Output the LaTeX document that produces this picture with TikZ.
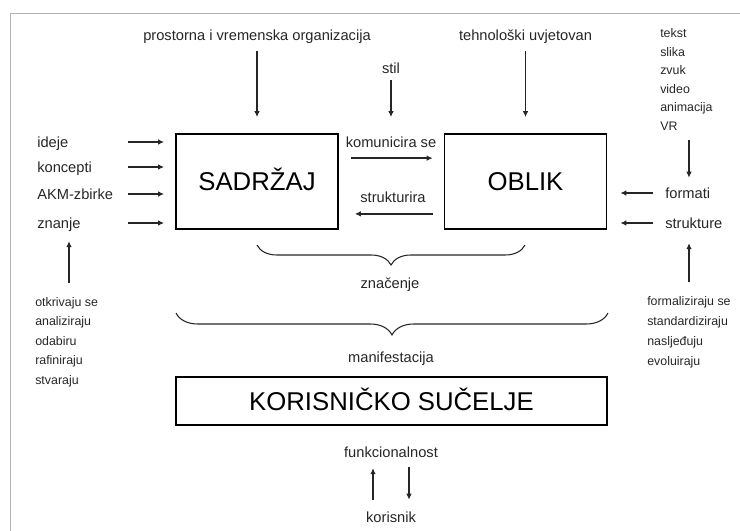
\documentclass[tikz,border=0pt]{standalone}
\usepackage{fontspec}
\setmainfont{Liberation Sans}
\usetikzlibrary{arrows.meta, positioning, calc, decorations.pathreplacing}

\begin{document}
\begin{tikzpicture}[
    x=0.75pt, y=-0.75pt,
    box/.style={rectangle, draw, line width=1.3pt, inner sep=0pt, text height=13.7pt, text depth=0pt, font=\fontsize{19.3}{23}\selectfont},
    lbl/.style={inner sep=0pt, text height=7.9pt, text depth=0pt, text=black!85, font=\fontsize{11}{13}\selectfont},
    lst/.style={inner sep=0pt, anchor=west, text height=6.7pt, text depth=0pt, text=black!85, font=\fontsize{9.3}{11}\selectfont},
    arr/.style={-{Latex[length=4.5pt,width=4.2pt]}, line width=1.25pt, black!85},
    brc/.style={decorate, decoration={brace, mirror, amplitude=#1}, line width=0.8pt, black!85}
]
\useasboundingbox (0,0) rectangle (740,531);

% Frame
\draw[gray!60, line width=0.6pt] (10,531) -- (10,13) -- (740,13);

% Nodes
\node (sad) [box, minimum width=121.5pt, minimum height=71.25pt] at (257,181.5) {SADRŽAJ};
\node (obl) [box, minimum width=121.5pt, minimum height=71.25pt] at (525.5,181.5) {OBLIK};
\node (kui) [box, minimum width=323.25pt, minimum height=36pt] at (391.5,401) {KORISNIČKO SUČELJE};

\node (prost) [lbl] at (257,35) {prostorna i vremenska organizacija};
\node (tehn) [lbl] at (525.5,35) {tehnološki uvjetovan};
\node (stil) [lbl] at (391,68) {stil};
\node (kom) [lbl] at (391,142) {komunicira se};
\node (strk) [lbl] at (393,197) {strukturira};

\node (ideje) [lbl, anchor=west] at (37,142) {ideje};
\node (konc) [lbl, anchor=west] at (37,167) {koncepti};
\node (akm) [lbl, anchor=west] at (37,194) {AKM-zbirke};
\node (znanje) [lbl, anchor=west] at (37,223) {znanje};

\node (formati) [lbl, anchor=west] at (665,193) {formati};
\node (strukt) [lbl, anchor=west] at (665,223) {strukture};

\foreach \t [count=\i] in {otkrivaju se, analiziraju, odabiru, rafiniraju, stvaraju}
  \node (ll\i) [lst] at (35,{302+19.5*(\i-1)}) {\t};
\foreach \t [count=\i] in {tekst, slika, zvuk, video, animacija, VR}
  \node (rt\i) [lst] at (660,{33+18.6*(\i-1)}) {\t};
\foreach \t [count=\i] in {formaliziraju se, standardiziraju, nasljeđuju, evoluiraju}
  \node (rb\i) [lst] at (647,{301+20*(\i-1)}) {\t};

\node (zn) [lbl] at (390,283) {značenje};
\node (man) [lbl] at (391,357) {manifestacija};
\node (funk) [lbl] at (391,452) {funkcionalnost};
\node (kor) [lbl] at (391,517) {korisnik};

\coordinate (lx) at (128,0);
\coordinate (lup) at (69,0);
\coordinate (rx) at (653,0);
\coordinate (rup) at (689,0);
\coordinate (kup) at (373,0);
\coordinate (kdn) at (409,0);

% Braces
\draw[brc=15pt] (257,245) -- (525,245);
\draw[brc=16.5pt] (176,313) -- (608,313);

% Paths
\draw [arr, shorten <=8pt, shorten >=12pt] (prost) -- (sad);
\draw [arr, shorten <=8pt, shorten >=12pt] (tehn) -- (obl);
\draw [arr, shorten <=5pt, shorten >=14.5pt] (stil) -- (kom);
\draw [arr] ($(sad.north east)+(12,25)$) -- ($(obl.north west)+(-11,25)$);
\draw [arr] ($(obl.south west)+(-11,-16)$) -- ($(sad.south east)+(16,-16)$);

\foreach \n in {ideje, konc, akm, znanje}
  \draw [arr, shorten >=8.25pt] (\n -| lx) -- (\n -| sad.west);
\foreach \n in {formati, strukt}
  \draw [arr, shorten >=9.75pt] (\n -| rx) -- (\n -| obl.east);

\draw [arr, shorten <=11pt, shorten >=9.5pt] (lup |- ll1.north) -- (lup |- znanje.south);
\draw [arr, shorten <=7pt, shorten >=7.3pt] (rup |- rt6.south) -- (rup |- formati.north);
\draw [arr, shorten <=11pt, shorten >=11pt] (rup |- rb1.north) -- (rup |- strukt.south);

\draw [arr, shorten <=8.8pt, shorten >=8pt] (kup |- kor.north) -- (kup |- funk.south);
\draw [arr, shorten <=7.3pt, shorten >=8.8pt] (kdn |- funk.south) -- (kdn |- kor.north);

\end{tikzpicture}
\end{document}
